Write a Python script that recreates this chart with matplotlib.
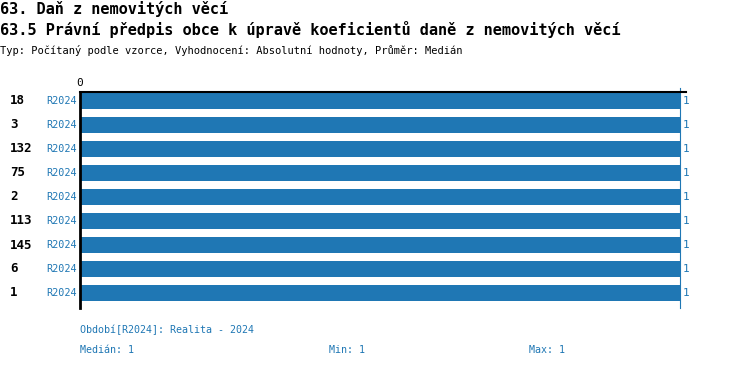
import matplotlib.pyplot as plt

# data
ids = ['18', '3', '132', '75', '2', '113', '145', '6', '1']
period = 'R2024'
values = [1, 1, 1, 1, 1, 1, 1, 1, 1]
median_val = 1
min_val = 1
max_val = 1

blue = '#1f77b4'
mono = 'DejaVu Sans Mono'

fig = plt.figure(figsize=(7.5, 3.68), dpi=100)
W, H = 750, 368

def fx(px):
    return px / W

def fy(py):
    return 1 - py / H

ax = fig.add_axes([fx(80), fy(308), fx(686 - 80), fy(92) - fy(308)])
ypos = list(range(len(ids)))
ax.barh(ypos, values, height=0.66, color=blue)
ax.set_xlim(0, 606 / 600)
ax.set_ylim(8.625, -0.375)
ax.axvline(median_val, color=blue, lw=0.8, ymin=0, ymax=1.02, clip_on=False)

for s in ['right', 'bottom']:
    ax.spines[s].set_visible(False)
ax.spines['left'].set_linewidth(2)
ax.spines['top'].set_linewidth(1.5)
ax.set_yticks([])
ax.set_xticks([0])
ax.xaxis.tick_top()
ax.tick_params(axis='x', length=0, pad=3, labelsize=8)
for t in ax.get_xticklabels():
    t.set_family(mono)

for i, (name, v) in enumerate(zip(ids, values)):
    ax.text(-70 / 600, i, name, ha='left', va='center', fontsize=9,
            fontweight='bold', family=mono)
    ax.text(-3 / 600, i, period, ha='right', va='center', fontsize=7.3,
            color=blue, family=mono)
    ax.text(v + 3 / 600, i, str(v), ha='left', va='center', fontsize=8,
            color=blue, family=mono)

fig.text(fx(0), fy(9), '63. Daň z nemovitých věcí', fontsize=11,
         fontweight='bold', family=mono, va='center')
fig.text(fx(0), fy(30), '63.5 Právní předpis obce k úpravě koeficientů daně z nemovitých věcí',
         fontsize=11, fontweight='bold', family=mono, va='center')
fig.text(fx(0), fy(50), 'Typ: Počítaný podle vzorce, Vyhodnocení: Absolutní hodnoty, Průměr: Medián',
         fontsize=7.5, family=mono, va='center')

fig.text(fx(80), fy(330), 'Období[R2024]: Realita - 2024', fontsize=7.2,
         color=blue, family=mono, va='center')
fig.text(fx(80), fy(350), 'Medián: %d' % median_val, fontsize=7.2,
         color=blue, family=mono, va='center')
fig.text(fx(329), fy(350), 'Min: %d' % min_val, fontsize=7.2,
         color=blue, family=mono, va='center')
fig.text(fx(529), fy(350), 'Max: %d' % max_val, fontsize=7.2,
         color=blue, family=mono, va='center')

fig.savefig('out.png', dpi=100)
